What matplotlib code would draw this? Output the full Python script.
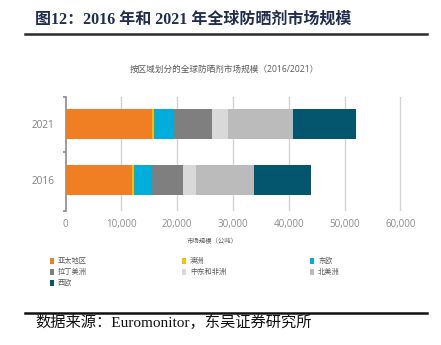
import matplotlib
matplotlib.use("Agg")
import matplotlib.pyplot as plt
from matplotlib.patches import Rectangle
from matplotlib.lines import Line2D

plt.rcParams['font.family'] = ['Open Sans', 'Noto Sans CJK SC', 'DejaVu Sans']

years = ["2016", "2021"]
regions = ["亚太地区", "澳洲", "东欧", "拉丁美洲", "中东和非洲", "北美洲", "西欧"]
values_2016 = [11900, 300, 3200, 5700, 2200, 10400, 10200]
values_2021 = [15400, 450, 3600, 6750, 2900, 11650, 11350]
colors = ["#F07E22", "#F6C000", "#00AEDB", "#7F7F7F", "#D9D9D9", "#BBBBBB", "#04566E"]
xticks = [0, 10000, 20000, 30000, 40000, 50000, 60000]
xticklabels = ["0", "10,000", "20,000", "30,000", "40,000", "50,000", "60,000"]

W, H = 441, 345
fig = plt.figure(figsize=(W / 100, H / 100), dpi=100)
fig.patch.set_facecolor("white")

def fx(px):
    return px / W

def fy(py):
    return 1 - py / H

# axes placement
ax_left, ax_right = 65.7, 406.0
ax_top, ax_bottom = 96.7, 211.0
ax = fig.add_axes([fx(ax_left), fy(ax_bottom), fx(ax_right - ax_left), (ax_bottom - ax_top) / H])
xmax = 60000 * (ax_right - ax_left) / (400.3 - 65.7)
ax.set_xlim(0, xmax)
ax.set_ylim(-0.554, 1.4875)

series = [values_2016, values_2021]
ypos = list(range(len(years)))
for i, reg in enumerate(regions):
    lefts = [sum(s[:i]) for s in series]
    widths = [s[i] for s in series]
    ax.barh(ypos, widths, left=lefts, height=0.54, color=colors[i], edgecolor="none", zorder=3)

for t in xticks[1:]:
    ax.axvline(t, color="#D3D3D3", lw=1.0, zorder=1)

for s in ["top", "right", "bottom"]:
    ax.spines[s].set_visible(False)
ax.spines["left"].set_color("#8C8C8C")
ax.spines["left"].set_linewidth(1.2)

ax.set_yticks(ypos)
ax.set_yticklabels(years, fontsize=7.2, color="#7F7F7F")
ax.tick_params(axis="y", length=0, pad=8)
ax.set_yticks([-0.554, 0.5, 1.4875], minor=True)
ax.tick_params(axis="y", which="minor", length=2.5, color="#8C8C8C", width=1.2, direction="out")

ax.set_xticks(xticks)
ax.set_xticklabels(xticklabels, fontsize=7, color="#8C8C8C")
ax.tick_params(axis="x", length=0, pad=6)

# inner chart title
fig.text(fx(224), fy(69), "按区域划分的全球防晒剂市场规模（2016/2021）", ha="center", va="center",
         fontsize=6.2, color="#595959")
# x label
fig.text(fx(212), fy(241), "市场规模（公吨）", ha="center", va="center", fontsize=4.6, color="#595959")

# legend
col_x = [52, 184, 312]
row_y = [261, 272, 283]
for i, reg in enumerate(regions):
    r, c = divmod(i, 3)
    mx, my = col_x[c], row_y[r]
    fig.patches.append(Rectangle((fx(mx - 2), fy(my + 3)), fx(4), 6 / H, transform=fig.transFigure,
                                 facecolor=colors[i], edgecolor="none"))
    fig.text(fx(mx + 6), fy(my), reg, ha="left", va="center", fontsize=5.2, color="#595959")

# header title and rules
fig.text(fx(35), fy(20), "图12：2016 年和 2021 年全球防晒剂市场规模", ha="left", va="center",
         fontsize=11.5, fontweight="bold", color="#1F2E4E",
         family=["Liberation Serif", "Noto Sans CJK SC"])
fig.add_artist(Line2D([fx(25), fx(427)], [fy(34.3), fy(34.3)], color="#2B2B2B", lw=1.8))
fig.add_artist(Line2D([fx(25), fx(427)], [fy(312.7), fy(312.7)], color="#111111", lw=1.8))
fig.text(fx(35), fy(322), "数据来源：Euromonitor，东吴证券研究所", ha="left", va="center",
         fontsize=11, color="#111111", family=["Liberation Serif", "Noto Sans CJK SC"])

fig.savefig("out.png", dpi=100, facecolor="white")
